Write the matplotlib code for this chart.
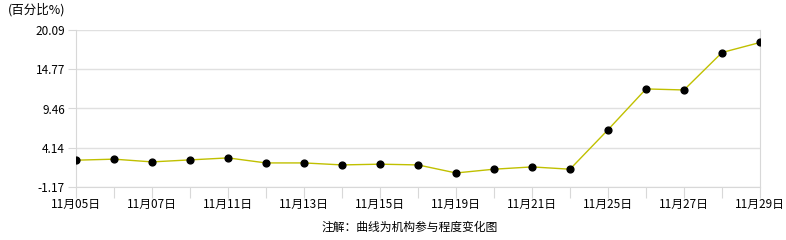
import numpy as np
import matplotlib.pyplot as plt

plt.rcParams['font.family'] = ['Noto Sans CJK SC', 'DejaVu Sans']

dates = ["11月05日", "11月06日", "11月07日", "11月08日", "11月11日", "11月12日",
         "11月13日", "11月14日", "11月15日", "11月18日", "11月19日", "11月20日",
         "11月21日", "11月22日", "11月25日", "11月26日", "11月27日", "11月28日",
         "11月29日"]
values = [2.46, 2.60, 2.23, 2.50, 2.77, 2.09, 2.09, 1.82, 1.92, 1.82,
          0.73, 1.24, 1.55, 1.24, 6.58, 12.11, 11.97, 17.04, 18.40]
yticks = [-1.17, 4.14, 9.46, 14.77, 20.09]

fig = plt.figure(figsize=(7.86, 2.4), dpi=100)
ax = fig.add_axes([76/786, 1-187/240, (760-76)/786, (187-30)/240])

x = np.arange(len(dates))
ax.plot(x, values, color='#c0c000', linewidth=1, zorder=2)
ax.scatter(x, values, s=24, color='black', zorder=3)

ax.set_xlim(0, len(dates)-1)
ax.set_ylim(yticks[0], yticks[-1])
ax.set_yticks(yticks)
ax.set_yticklabels(["%.2f" % v for v in yticks], fontsize=8.5)
ax.set_xticks(x)
ax.set_xticklabels([d if i % 2 == 0 else "" for i, d in enumerate(dates)], fontsize=8.5)
ax.tick_params(axis='x', length=8, color='#d8d8d8', pad=0)
ax.tick_params(axis='y', length=6, color='#d8d8d8', pad=2)

ax.grid(axis='y', color='#e0e0e0', linewidth=1)
for s in ['left', 'bottom', 'right']:
    ax.spines[s].set_color('#d8d8d8')
ax.spines['top'].set_visible(False)

fig.text(8/786, 1-10/240, "(百分比%)", fontsize=9, va='center', ha='left')
fig.text(410/786, 1-227/240, "注解：曲线为机构参与程度变化图", fontsize=8.5, va='center', ha='center')

plt.savefig("out.png", dpi=100)
